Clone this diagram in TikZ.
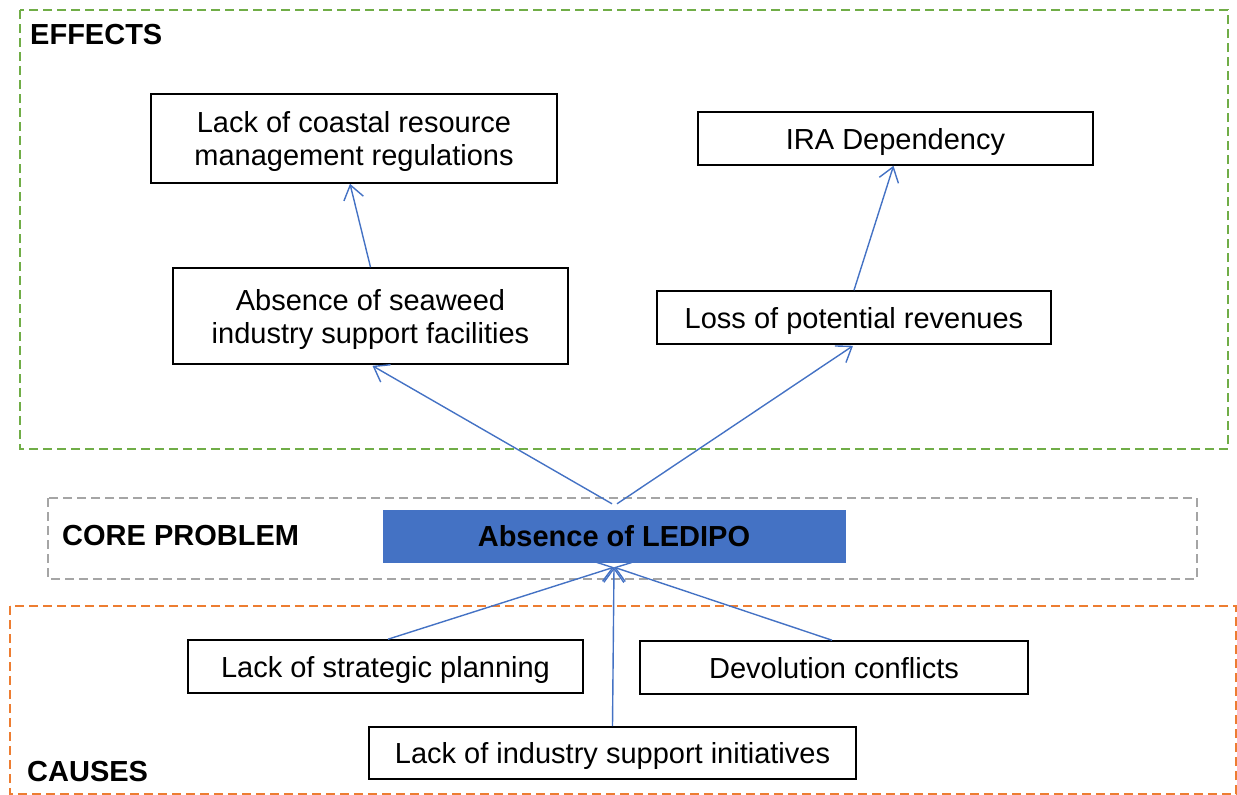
\documentclass[tikz,border=0pt]{standalone}
\usepackage{fontspec}
\setmainfont{Liberation Sans}
\usetikzlibrary{arrows.meta}
\definecolor{linkblue}{HTML}{4472C4}
\definecolor{effgreen}{HTML}{70AD47}
\definecolor{coregray}{HTML}{A5A5A5}
\definecolor{causeorange}{HTML}{ED7D31}
\begin{document}
\begin{tikzpicture}[x=1pt,y=-1pt,
  font=\fontsize{29}{33}\selectfont,
  framebox/.style={line width=1.4pt, dash pattern=on 9pt off 5pt},
  itembox/.style={draw=black, line width=1.6pt, fill=white, inner sep=0pt, text depth=0pt, align=center},
  corebox/.style={fill=linkblue, draw=linkblue, inner sep=0pt, text depth=0pt, font=\fontsize{29}{33}\selectfont\bfseries},
  zonelabel/.style={anchor=base west, inner sep=0pt, font=\fontsize{29}{33}\selectfont\bfseries},
  link/.style={draw=linkblue, line width=1.4pt, -{Straight Barb[length=14pt, width=20pt, line width=1.4pt]}}
]
\useasboundingbox (0,0) rectangle (1237,795);

% zone frames
\draw[framebox, effgreen] (20,10) rectangle (1228,449);
\draw[framebox, coregray] (48,498) rectangle (1197,579);
\draw[framebox, causeorange] (10,606) rectangle (1236,794);

% zone labels
\node[zonelabel] (lblEff) at (30,44) {EFFECTS};
\node[zonelabel] (lblCore) at (62,545) {CORE PROBLEM};
\node[zonelabel] (lblCause) at (27,781) {CAUSES};

% effects
\node[itembox, minimum width=406pt, minimum height=89pt] (regs) at (354,138.5)
  {Lack of coastal resource\\management regulations};
\node[itembox, minimum width=395pt, minimum height=53pt] (ira) at (895.5,138.5) {IRA Dependency};
\node[itembox, minimum width=395pt, minimum height=96pt] (seaweed) at (370.5,316)
  {Absence of seaweed\\industry support facilities};
\node[itembox, minimum width=394pt, minimum height=53pt] (loss) at (854,317.5) {Loss of potential revenues};

% core problem
\node[corebox, minimum width=462pt, minimum height=52pt] (core) at (614,536) {Absence of LEDIPO};
\coordinate (coreTopA) at ([xshift=-2pt,yshift=6pt]core.north);
\coordinate (coreTopB) at ([xshift=3pt,yshift=6pt]core.north);
\coordinate (coreBot) at ([yshift=-5pt]core.south);

% causes
\node[itembox, minimum width=395pt, minimum height=53pt] (strat) at (385.5,666.5) {Lack of strategic planning};
\node[itembox, minimum width=388pt, minimum height=53pt] (devo) at (834,667.5) {Devolution conflicts};
\node[itembox, minimum width=487pt, minimum height=52pt] (ind) at (612.5,753) {Lack of industry support initiatives};

% connectors
\draw[link] (seaweed.north) -- ([xshift=-4pt]regs.south);
\draw[link] (loss.north) -- ([xshift=-2pt]ira.south);
\draw[link] (coreTopA) -- ([xshift=2pt,yshift=-1pt]seaweed.south);
\draw[link] (coreTopB) -- ([xshift=-1pt,yshift=-1pt]loss.south);
\draw[link] ([xshift=2.5pt]strat.north) -- (coreBot);
\draw[link] ([xshift=-2pt]devo.north) -- (coreBot);
\draw[link] (ind.north) -- (coreBot);
\end{tikzpicture}
\end{document}
